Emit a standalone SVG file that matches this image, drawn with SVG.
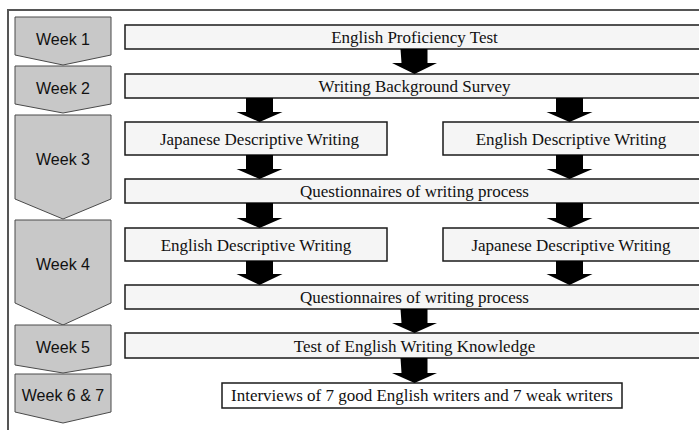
<svg xmlns="http://www.w3.org/2000/svg" width="699" height="430" viewBox="0 0 699 430">
<style>
.wk{fill:#c8c8c8;stroke:#4a4a4a;stroke-width:1}
.wt{font-family:"Liberation Sans",Arial,sans-serif;font-size:16px;fill:#111;text-anchor:middle}
.bx{fill:#f5f5f5;stroke:#1a1a1a;stroke-width:1.5}
.bt{font-family:"Liberation Serif","Times New Roman",serif;font-size:17px;fill:#111;text-anchor:middle}
.ar{fill:#000}
.frame{fill:none;stroke:#555;stroke-width:2}
</style>
<rect width="699" height="430" fill="#fff"/>
<path class="frame" d="M8,430 V10 H699"/>
<g id="week1"><path class="wk" d="M15,17 H111 V55 L63,65 L15,55 Z"/><text class="wt" x="63" y="45">Week 1</text></g>
<g id="week2"><path class="wk" d="M15,66 H111 V104 L63,113 L15,104 Z"/><text class="wt" x="63" y="94">Week 2</text></g>
<g id="week3"><path class="wk" d="M15,115 H111 V199 L63,219 L15,199 Z"/><text class="wt" x="63" y="165">Week 3</text></g>
<g id="week4"><path class="wk" d="M15,220 H111 V303 L63,325 L15,303 Z"/><text class="wt" x="63" y="270">Week 4</text></g>
<g id="week5"><path class="wk" d="M15,325 H111 V365 L63,373 L15,365 Z"/><text class="wt" x="63" y="353">Week 5</text></g>
<g id="week67"><path class="wk" d="M15,374 H111 V412 L63,423 L15,412 Z"/><text class="wt" x="63" y="401">Week 6 &amp; 7</text></g>
<g id="proficiency"><rect class="bx" x="125" y="25" width="580" height="24"/><text class="bt" x="414.5" y="43">English Proficiency Test</text></g>
<g id="survey"><rect class="bx" x="125" y="74" width="580" height="24"/><text class="bt" x="414.5" y="92">Writing Background Survey</text></g>
<g id="jdw1"><rect class="bx" x="125" y="122" width="262" height="33"/><text class="bt" x="259.5" y="144.5">Japanese Descriptive Writing</text></g>
<g id="edw1"><rect class="bx" x="443" y="122" width="262" height="33"/><text class="bt" x="571" y="144.5">English Descriptive Writing</text></g>
<g id="quest1"><rect class="bx" x="125" y="179" width="580" height="24"/><text class="bt" x="414.5" y="197">Questionnaires of writing process</text></g>
<g id="edw2"><rect class="bx" x="125" y="228" width="262" height="33"/><text class="bt" x="256" y="250.5">English Descriptive Writing</text></g>
<g id="jdw2"><rect class="bx" x="443" y="228" width="262" height="33"/><text class="bt" x="571" y="250.5">Japanese Descriptive Writing</text></g>
<g id="quest2"><rect class="bx" x="125" y="285" width="580" height="24"/><text class="bt" x="414.5" y="303">Questionnaires of writing process</text></g>
<g id="knowledge"><rect class="bx" x="125" y="333" width="580" height="25"/><text class="bt" x="414.5" y="351.5">Test of English Writing Knowledge</text></g>
<g id="interviews"><rect x="222" y="383" width="400" height="25" fill="#fff" stroke="#1a1a1a" stroke-width="1.5"/><text class="bt" x="422" y="401">Interviews of 7 good English writers and 7 weak writers</text></g>
<g id="connectors" class="ar">
<path d="M400.5,49 h27 v14 h9.5 l-22.5,11 l-22.5,-11 h9.5 Z"/>
<path d="M246,98 h27 v14 h9.5 l-23,10 l-23,-10 h9.5 Z"/>
<path d="M556,98 h27 v14 h9.5 l-23,10 l-23,-10 h9.5 Z"/>
<path d="M246,155 h27 v14 h9.5 l-23,10 l-23,-10 h9.5 Z"/>
<path d="M556,155 h27 v14 h9.5 l-23,10 l-23,-10 h9.5 Z"/>
<path d="M246,203 h27 v15 h9.5 l-23,10 l-23,-10 h9.5 Z"/>
<path d="M556,203 h27 v15 h9.5 l-23,10 l-23,-10 h9.5 Z"/>
<path d="M246,261 h27 v13 h9.5 l-23,11 l-23,-11 h9.5 Z"/>
<path d="M556,261 h27 v13 h9.5 l-23,11 l-23,-11 h9.5 Z"/>
<path d="M400.5,309 h27 v14 h9.5 l-22.5,10 l-22.5,-10 h9.5 Z"/>
<path d="M400.5,358 h27 v15 h9.5 l-22.5,10 l-22.5,-10 h9.5 Z"/>
</g>
</svg>
